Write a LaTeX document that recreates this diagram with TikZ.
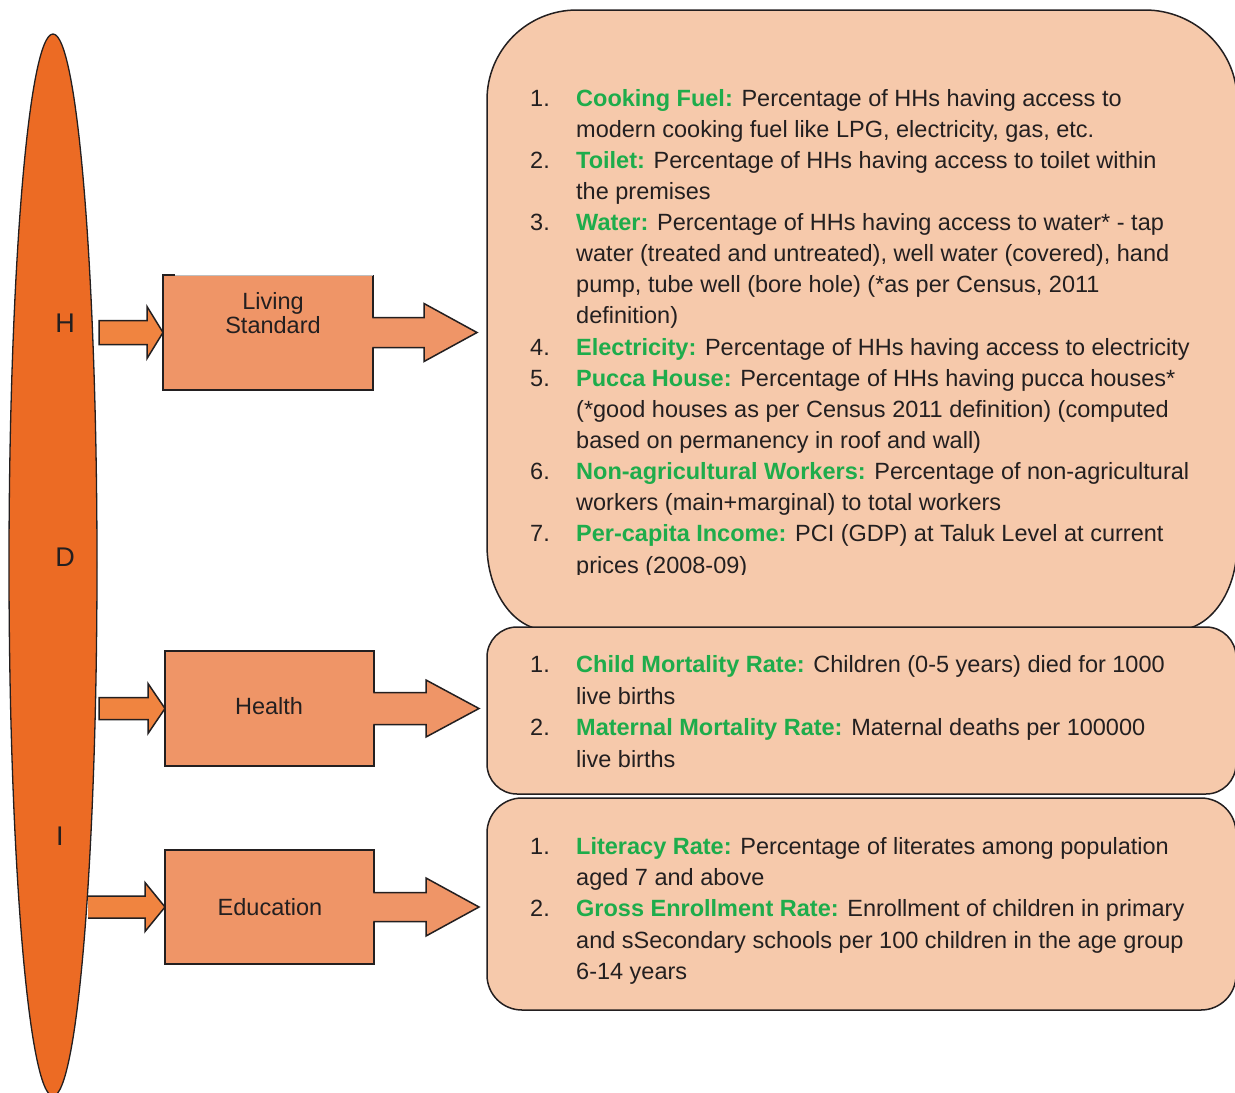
\documentclass[tikz,border=0pt]{standalone}
\usepackage{fontspec}
\setmainfont{Liberation Sans}
\usetikzlibrary{shapes.geometric,calc}
\definecolor{ellc}{RGB}{236,107,36}
\definecolor{boxc}{RGB}{239,149,103}
\definecolor{arrc}{RGB}{240,132,64}
\definecolor{panc}{RGB}{246,201,171}
\definecolor{txtc}{RGB}{35,31,32}
\definecolor{grn}{RGB}{30,172,75}
\newcommand\gterm[1]{{\color{grn}\bfseries #1}}
\newcommand\LeftBlock[6]{%
 \fill[arrc] ($(#1.west)+(-#2,-#4)$) -- ($(#1.west)+(-#3,-#4)$) -- ($(#1.west)+(-#3,-#5)$) -- (#1.west) -- ($(#1.west)+(-#3,#5)$) -- ($(#1.west)+(-#3,#4)$) -- ($(#1.west)+(-#2,#4)$) -- cycle;
 \draw[edge] ($(#1.west)+(-#2,-#4)$) -- ($(#1.west)+(-#3,-#4)$) -- ($(#1.west)+(-#3,-#5)$) -- (#1.west) -- ($(#1.west)+(-#3,#5)$) -- ($(#1.west)+(-#3,#4)$) -- ($(#1.west)+(-#2,#4)$) #6;}
\newcommand\RightBlock[5]{%
 \fill[boxc] ($(#1.east)+(-2,-#4)$) -- ($(#1.east)+(#2,-#4)$) -- ($(#1.east)+(#2,-#5)$) -- ($(#1.east)+(#2+#3,0)$) -- ($(#1.east)+(#2,#5)$) -- ($(#1.east)+(#2,#4)$) -- ($(#1.east)+(-2,#4)$) -- cycle;
 \draw[edge] ($(#1.east)+(-0.75,-#4)$) -- ($(#1.east)+(#2,-#4)$) -- ($(#1.east)+(#2,-#5)$) -- ($(#1.east)+(#2+#3,0)$) -- ($(#1.east)+(#2,#5)$) -- ($(#1.east)+(#2,#4)$) -- ($(#1.east)+(-0.75,#4)$);}
\begin{document}
\begin{tikzpicture}[x=1pt,y=-1pt,
  edge/.style={draw=txtc, line width=1.5pt, line join=miter},
  ln/.style={anchor=base west, inner sep=0pt, text=txtc, font=\fontsize{23.5}{28}\selectfont},
  lbl/.style={anchor=base, inner sep=0pt, text=txtc, font=\fontsize{23.5}{28}\selectfont},
  big/.style={anchor=base, inner sep=0pt, text=txtc, font=\fontsize{27}{30}\selectfont},
  catbox/.style={rectangle, fill=boxc, edge, outer sep=0pt, inner sep=0pt},
  panel/.style={rectangle, fill=panc, edge, outer sep=0pt, inner sep=0pt}]
\useasboundingbox (0,0) rectangle (1235,1093);
% HDI ellipse
\node[ellipse, fill=ellc, draw=txtc, line width=1.3pt, minimum width=88pt, minimum height=1062pt, inner sep=0pt] (hdi) at (53,565) {};
\node[big] (lH) at (65,332) {H};
\node[big] (lD) at (65,566) {D};
\node[big] (lI) at (60,845) {I};
% panels
\path[fill=panc, edge] (487,100) .. controls (487,50) and (527,10) .. (577,10) -- (1145,10)
  .. controls (1195,10) and (1237,50) .. (1237,100) -- (1237,545)
  .. controls (1237,592) and (1210,630) .. (1177,630) -- (547,630)
  .. controls (514,630) and (487,592) .. (487,545) -- cycle;
\node[panel, rounded corners=30pt, minimum width=749pt, minimum height=167pt] (p2) at (861.5,710.5) {};
\node[panel, rounded corners=35pt, minimum width=749pt, minimum height=212pt] (p3) at (861.5,904) {};
% category boxes
\node[rectangle, fill=boxc, outer sep=0pt, inner sep=0pt, minimum width=210pt, minimum height=115pt] (ls) at (268,332.5) {};
\draw[edge] ($(ls.north west)+(12,0)$) -- (ls.north west) -- (ls.south west) -- (ls.south east) -- (ls.north east);
\draw[black!25, line width=0.8pt] ($(ls.north west)+(12,0)$) -- (ls.north east);
\node[catbox, minimum width=209pt, minimum height=115pt] (hl) at (269.5,708.5) {};
\node[catbox, minimum width=209pt, minimum height=114pt] (ed) at (269.5,907) {};
\node[lbl] (lv1) at (273,309) {Living};
\node[lbl] (lv2) at (273,333) {Standard};
\node[lbl] (hlt) at (269,714) {Health};
\node[lbl] (edt) at (270,915) {Education};
% block arrows
\LeftBlock{ls}{64}{16}{12}{26}{-- cycle}
\LeftBlock{hl}{66}{17}{11}{25}{-- cycle}
\LeftBlock{ed}{77}{20}{11}{24.5}{}
\RightBlock{ls}{51}{53}{15}{29}
\RightBlock{hl}{52}{53}{16}{28.5}
\RightBlock{ed}{52}{53}{14.5}{29}
% panel 1 text
\begin{scope}
\clip (487,0) rectangle (1237,574.5);
\node[ln] (n11) at (530,106) {1.};
\node[ln] (t11) at (576,106) {\gterm{Cooking Fuel:} Percentage of HHs having access to};
\node[ln] (t12) at (576,137.1) {modern cooking fuel like LPG, electricity, gas, etc.};
\node[ln] (n12) at (530,168.3) {2.};
\node[ln] (t13) at (576,168.3) {\gterm{Toilet:} Percentage of HHs having access to toilet within};
\node[ln] (t14) at (576,199.4) {the premises};
\node[ln] (n13) at (530,230.5) {3.};
\node[ln] (t15) at (576,230.5) {\gterm{Water:} Percentage of HHs having access to water* - tap};
\node[ln] (t16) at (576,261.7) {water (treated and untreated), well water (covered), hand};
\node[ln] (t17) at (576,292.8) {pump, tube well (bore hole) (*as per Census, 2011};
\node[ln] (t18) at (576,323.9) {definition)};
\node[ln] (n14) at (530,355.0) {4.};
\node[ln] (t19) at (576,355.0) {\gterm{Electricity:} Percentage of HHs having access to electricity};
\node[ln] (n15) at (530,386.2) {5.};
\node[ln] (t110) at (576,386.2) {\gterm{Pucca House:} Percentage of HHs having pucca houses*};
\node[ln] (t111) at (576,417.3) {(*good houses as per Census 2011 definition) (computed};
\node[ln] (t112) at (576,448.4) {based on permanency in roof and wall)};
\node[ln] (n16) at (530,479.6) {6.};
\node[ln] (t113) at (576,479.6) {\gterm{Non-agricultural Workers:} Percentage of non-agricultural};
\node[ln] (t114) at (576,510.7) {workers (main+marginal) to total workers};
\node[ln] (n17) at (530,541.8) {7.};
\node[ln] (t115) at (576,541.8) {\gterm{Per-capita Income:} PCI (GDP) at Taluk Level at current};
\node[ln] (t116) at (576,573.0) {prices (2008-09)};
\end{scope}
% panel 2 text
\node[ln] (n21) at (530,672) {1.};
\node[ln] (t21) at (576,672) {\gterm{Child Mortality Rate:} Children (0-5 years) died for 1000};
\node[ln] (t22) at (576,704) {live births};
\node[ln] (n22) at (530,735) {2.};
\node[ln] (t23) at (576,735) {\gterm{Maternal Mortality Rate:} Maternal deaths per 100000};
\node[ln] (t24) at (576,767) {live births};
% panel 3 text
\node[ln] (n31) at (530,854) {1.};
\node[ln] (t31) at (576,854) {\gterm{Literacy Rate:} Percentage of literates among population};
\node[ln] (t32) at (576,885) {aged 7 and above};
\node[ln] (n32) at (530,916) {2.};
\node[ln] (t33) at (576,916) {\gterm{Gross Enrollment Rate:} Enrollment of children in primary};
\node[ln] (t34) at (576,948) {and sSecondary schools per 100 children in the age group};
\node[ln] (t35) at (576,979) {6-14 years};
\end{tikzpicture}
\end{document}
